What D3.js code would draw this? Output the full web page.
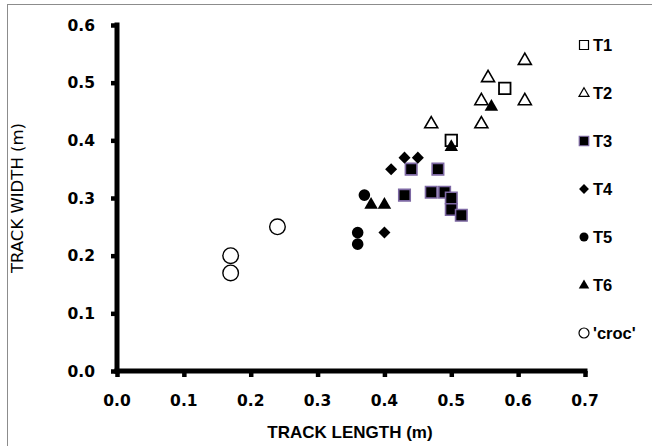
<!DOCTYPE html>
<html>
<head>
  <script src="https://d3js.org/d3.v7.min.js"></script>
  <style>
    * { margin: 0; box-sizing: border-box; }
    body { background: #fff; }
    .tick-label { font: bold 15.5px "DejaVu Sans", Verdana, sans-serif; fill: #000; }
    .title { font: bold 17px "Liberation Sans", Arial, sans-serif; fill: #000; }
    .ytitle { font: 16.5px "DejaVu Sans", Verdana, sans-serif; fill: #000; }
    .legend text { font: bold 16.5px "Liberation Sans", Arial, sans-serif; fill: #000; }
  </style>
</head>
<body>
<script>
  // series data: [track length, track width] in m
  const seriesNames = ["T1", "T2", "T3", "T4", "T5", "T6", "'croc'"];
  const t1 = [[0.58, 0.49], [0.50, 0.40]];
  const t2 = [[0.61, 0.54], [0.555, 0.51], [0.545, 0.47], [0.61, 0.47], [0.47, 0.43], [0.545, 0.43]];
  const t3 = [[0.44, 0.35], [0.48, 0.35], [0.43, 0.305], [0.47, 0.31], [0.49, 0.31], [0.50, 0.30], [0.50, 0.28], [0.515, 0.27]];
  const t4 = [[0.43, 0.37], [0.45, 0.37], [0.41, 0.35], [0.40, 0.24]];
  const t5 = [[0.37, 0.305], [0.36, 0.24], [0.36, 0.22]];
  const t6 = [[0.38, 0.29], [0.40, 0.29], [0.50, 0.39], [0.56, 0.46]];
  const croc = [[0.24, 0.25], [0.17, 0.20], [0.17, 0.17]];
  const xTicks = [0, 0.1, 0.2, 0.3, 0.4, 0.5, 0.6, 0.7];
  const yTicks = [0, 0.1, 0.2, 0.3, 0.4, 0.5, 0.6];

  const width = 652, height = 446;
  const svg = d3.select("body").append("svg")
    .attr("width", width)
    .attr("height", height);

  // outer chart border (only top/left visible)
  svg.append("rect")
    .attr("x", 7.5).attr("y", 4.5)
    .attr("width", 700).attr("height", 500)
    .attr("fill", "none").attr("stroke", "#8c8c8c").attr("stroke-width", 1);

  const x = d3.scaleLinear().domain([0, 0.7]).range([117, 585]);
  const y = d3.scaleLinear().domain([0, 0.6]).range([371, 25]);

  const sq = (s) => d3.symbol(d3.symbolSquare, s * s)();
  const tri = (s) => d3.symbol(d3.symbolTriangle, Math.sqrt(3) / 4 * s * s)();
  const circ = (r) => d3.symbol(d3.symbolCircle, Math.PI * r * r)();

  const styles = [
    { data: t1, path: sq(11.5), legend: sq(9), fill: "#fff", stroke: "#000", sw: 1.8 },
    { data: t2, path: tri(13), legend: tri(10), fill: "#fff", stroke: "#000", sw: 1.6, dy: 1 },
    { data: t3, path: sq(11.5), legend: sq(9.5), fill: "#000", stroke: "#7d68a3", sw: 1.6 },
    { data: t4, path: sq(8.5), legend: sq(7), fill: "#000", stroke: "none", sw: 0, rot: 45 },
    { data: t5, path: circ(5.8), legend: circ(4.5), fill: "#000", stroke: "none", sw: 0 },
    { data: t6, path: tri(13.5), legend: tri(10.5), fill: "#000", stroke: "none", sw: 0, dy: 1 },
    { data: croc, path: circ(7.8), legend: circ(5), fill: "none", stroke: "#000", sw: 1.4 }
  ];

  // axes
  const xAxis = d3.axisBottom(x).tickValues(xTicks).tickSize(6).tickFormat("");
  const yAxis = d3.axisLeft(y).tickValues(yTicks).tickSize(6).tickFormat("");

  const gx = svg.append("g").attr("transform", `translate(0,${y(0)})`).call(xAxis);
  const gy = svg.append("g").attr("transform", `translate(${x(0)},0)`).call(yAxis);
  [gx, gy].forEach(g => {
    g.select(".domain").attr("stroke", "#000").attr("stroke-width", 5);
    g.selectAll(".tick line").attr("stroke", "#000").attr("stroke-width", 4.5);
  });
  gx.select(".domain").attr("d", `M${x(0) - 2.5},0H${x(0.7) + 2.5}`);
  gy.select(".domain").attr("d", `M0,${y(0.6) - 2.5}V${y(0) + 2.5}`);

  svg.selectAll(".xlabel").data(xTicks).enter().append("text")
    .attr("class", "tick-label")
    .attr("x", d => x(d))
    .attr("y", 406)
    .attr("text-anchor", "middle")
    .text(d => d3.format(".1f")(d));

  svg.selectAll(".ylabel").data(yTicks).enter().append("text")
    .attr("class", "tick-label")
    .attr("x", 95)
    .attr("y", d => y(d) + 5.5)
    .attr("text-anchor", "end")
    .text(d => d3.format(".1f")(d));

  svg.append("text").attr("class", "title")
    .attr("x", 350).attr("y", 438)
    .attr("text-anchor", "middle")
    .text("TRACK LENGTH (m)");

  svg.append("text").attr("class", "ytitle")
    .attr("transform", `translate(23,${(y(0) + y(0.6)) / 2}) rotate(-90)`)
    .attr("text-anchor", "middle")
    .text("TRACK WIDTH (m)");

  // points
  styles.forEach(s => {
    svg.append("g").selectAll("path").data(s.data).enter().append("path")
      .attr("d", s.path)
      .attr("transform", d => `translate(${x(d[0])},${y(d[1]) + (s.dy || 0)}) rotate(${s.rot || 0})`)
      .attr("fill", s.fill)
      .attr("stroke", s.stroke)
      .attr("stroke-width", s.sw);
  });

  // legend
  const legend = svg.append("g").attr("class", "legend");
  const legY = d3.scalePoint().domain(seriesNames).range([45, 333]);
  seriesNames.forEach((name, i) => {
    const s = styles[i];
    legend.append("path")
      .attr("d", s.legend)
      .attr("transform", `translate(584,${legY(name) + (s.dy ? 0.5 : 0)}) rotate(${s.rot || 0})`)
      .attr("fill", s.fill)
      .attr("stroke", s.stroke)
      .attr("stroke-width", Math.min(s.sw, 1.2));
    legend.append("text")
      .attr("x", 593)
      .attr("y", legY(name) + 6)
      .text(name);
  });
</script>
</body>
</html>
